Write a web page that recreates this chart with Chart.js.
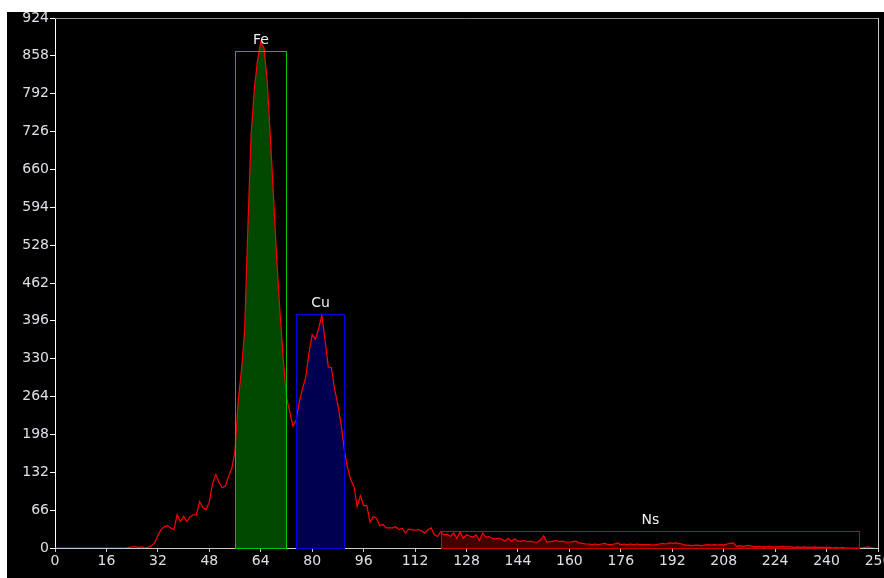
<!DOCTYPE html>
<html>
<head>
<meta charset="utf-8">
<script src="https://cdn.jsdelivr.net/npm/chart.js@4/dist/chart.umd.min.js"></script>
<style>
  html, body { margin: 0; padding: 0; background: #fff; }
  #wrap { position: absolute; left: 7px; top: 12px; width: 877px; height: 566px; background: #000; }
</style>
</head>
<body>
<div id="wrap"><canvas id="histChart"></canvas></div>
<script>
// Histogram counts, one per channel 0..255
const binCounts = [
    0, 0, 0, 0, 0, 0, 0, 0, 0, 0, 0, 0, 0, 0, 0, 0,
    0, 0, 0, 0, 0, 0, 0, 1, 2, 2, 1, 2, 0, 1, 4, 9,
    22, 32, 37, 39, 35, 32, 58, 46, 55, 46, 54, 58, 58, 81, 70, 67,
    80, 112, 128, 115, 105, 108, 125, 139, 170, 258, 310, 380, 560, 720, 800, 850,
    882, 872, 815, 715, 610, 500, 410, 330, 262, 238, 212, 222, 255, 278, 298, 340,
    372, 364, 382, 406, 363, 316, 314, 276, 250, 215, 171, 140, 119, 107, 72, 91,
    74, 74, 45, 55, 52, 39, 41, 35, 35, 35, 37, 32, 34, 26, 33, 32,
    31, 32, 30, 26, 32, 35, 23, 20, 29, 23, 24, 20, 26, 17, 28, 17,
    23, 21, 19, 23, 13, 26, 19, 20, 17, 16, 17, 15, 12, 17, 12, 16,
    12, 12, 13, 11, 12, 10, 10, 14, 21, 10, 11, 12, 13, 11, 12, 10,
    10, 11, 12, 9, 8, 7, 7, 6, 7, 6, 7, 8, 6, 6, 7, 9,
    6, 7, 6, 7, 6, 7, 6, 6, 6, 6, 5, 6, 7, 8, 7, 9,
    8, 9, 8, 7, 5, 5, 4, 5, 5, 4, 5, 6, 5, 6, 5, 6,
    5, 7, 8, 9, 3, 4, 3, 4, 4, 3, 2, 3, 2, 2, 3, 2,
    2, 2, 3, 2, 2, 2, 1, 2, 1, 2, 1, 1, 2, 1, 1, 1,
    1, 1, 0, 1, 0, 1, 0, 0, 0, 0, 0, 0, 1, 2, 0, 0
];

// Regions of interest
const regionNames = ['Fe', 'Cu', 'Ns'];
const regionStart = [56, 75, 120];
const regionEnd = [72, 90, 250];
const regionTop = [866, 408, 30];

// Axis ticks
const xMax = 256;
const xStep = 16;
const yMax = 924;
const yStep = 66;

const regionStroke = ['#00c800', '#0000e6', '#d00000'];
const regionFill = ['#004800', '#000050', '#420000'];

const curvePoints = binCounts.map((v, i) => ({ x: i, y: v }));

const regionDatasets = regionNames.map((name, r) => ({
    label: name,
    data: curvePoints.filter(p => p.x >= regionStart[r] && p.x <= regionEnd[r]),
    borderWidth: 0,
    backgroundColor: regionFill[r],
    fill: 'origin',
    pointRadius: 0,
    tension: 0
}));

const frameAndBoxes = {
    id: 'frameAndBoxes',
    beforeDatasetsDraw(chart) {
        const { ctx, chartArea: a } = chart;
        ctx.save();
        ctx.lineWidth = 1;
        ctx.strokeStyle = '#8c8c8c';
        ctx.beginPath();
        ctx.moveTo(a.left, Math.round(a.top) + 0.5);
        ctx.lineTo(a.right, Math.round(a.top) + 0.5);
        ctx.stroke();
        ctx.strokeStyle = '#c8c8c8';
        ctx.beginPath();
        ctx.moveTo(Math.round(a.right) + 0.5, a.top);
        ctx.lineTo(Math.round(a.right) + 0.5, a.bottom);
        ctx.stroke();
        ctx.restore();
    },
    afterDatasetsDraw(chart) {
        const { ctx } = chart;
        const xs = chart.scales.x, ys = chart.scales.y;
        ctx.save();
        ctx.lineWidth = 1;
        ctx.font = '14px "DejaVu Sans", sans-serif';
        ctx.textAlign = 'center';
        ctx.textBaseline = 'alphabetic';
        regionNames.forEach((name, r) => {
            const x0 = Math.round(xs.getPixelForValue(regionStart[r])) + 0.5;
            const x1 = Math.round(xs.getPixelForValue(regionEnd[r])) + 0.5;
            const y0 = Math.round(ys.getPixelForValue(regionTop[r])) + 0.5;
            const y1 = Math.round(ys.getPixelForValue(0)) + 0.5;
            ctx.strokeStyle = regionStroke[r];
            ctx.strokeRect(x0, y0, x1 - x0, y1 - y0);
            ctx.fillStyle = '#f0f0f0';
            ctx.fillText(name, (x0 + x1) / 2, y0 - 8);
        });
        ctx.restore();
    }
};

const tickFont = { size: 14, family: "'DejaVu Sans', sans-serif" };

new Chart(document.getElementById('histChart'), {
    type: 'line',
    data: {
        datasets: [{
            label: 'counts',
            data: curvePoints,
            borderColor: '#ff0000',
            borderWidth: 1.2,
            pointRadius: 0,
            tension: 0,
            fill: false
        }, ...regionDatasets]
    },
    options: {
        responsive: true,
        maintainAspectRatio: false,
        animation: false,
        layout: { padding: { top: 6, right: 6, left: 0, bottom: 0 } },
        scales: {
            x: {
                type: 'linear',
                min: 0,
                max: xMax,
                border: { display: true, color: '#c8c8c8', width: 1 },
                grid: { drawOnChartArea: false, drawTicks: true, tickLength: 4, color: '#c8c8c8' },
                ticks: {
                    stepSize: xStep,
                    autoSkip: false,
                    maxRotation: 0,
                    padding: 1,
                    color: '#dde0e6',
                    font: tickFont
                },
                afterFit(scale) {
                    scale.height = 30;
                    scale.paddingLeft = 0;
                    scale.paddingRight = 0;
                }
            },
            y: {
                min: 0,
                max: yMax,
                border: { display: true, color: '#ffffff', width: 1 },
                grid: { drawOnChartArea: false, drawTicks: true, tickLength: 5, color: '#ffffff' },
                ticks: {
                    stepSize: yStep,
                    autoSkip: false,
                    padding: 1,
                    color: '#dde0e6',
                    font: tickFont
                },
                afterFit(scale) {
                    scale.width = 48;
                    scale.paddingTop = 0;
                    scale.paddingBottom = 0;
                }
            }
        },
        plugins: {
            legend: { display: false },
            tooltip: { enabled: false }
        }
    },
    plugins: [frameAndBoxes]
});
</script>
</body>
</html>
